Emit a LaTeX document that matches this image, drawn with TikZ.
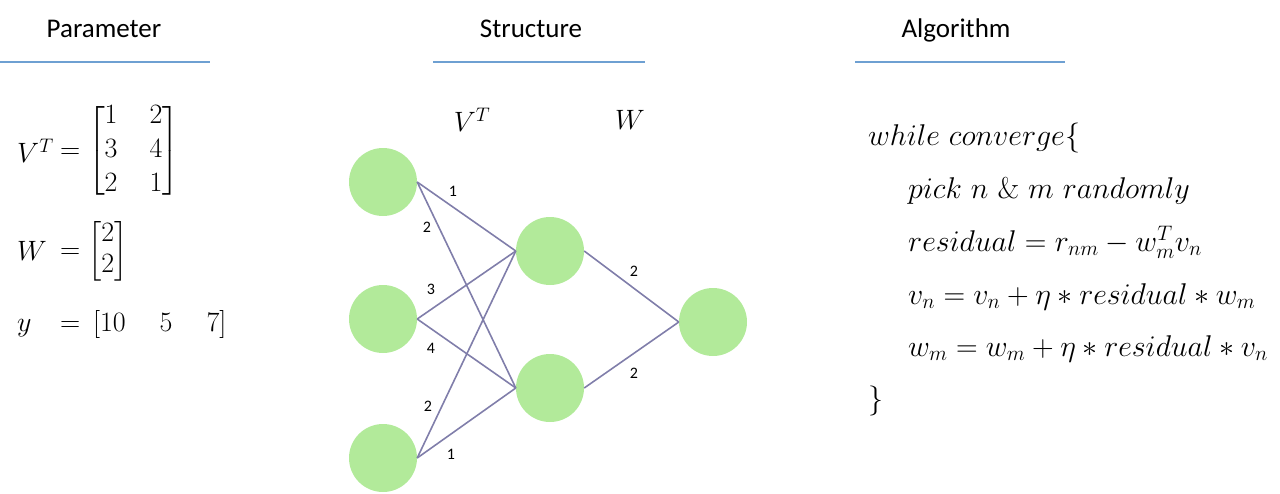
\documentclass[tikz,border=0pt]{standalone}
\usepackage{fix-cm}
\usepackage{amsmath}
\usepackage{fontspec}
\newfontfamily\titlefont{Carlito}
\definecolor{nodegreen}{RGB}{178,234,154}
\definecolor{edgecol}{RGB}{128,126,170}
\definecolor{rulecol}{RGB}{110,160,210}
\tikzset{
  neuron/.style={circle, fill=nodegreen, minimum size=68pt, inner sep=0pt},
  conn/.style={draw=edgecol, line width=1.6pt},
  wlabel/.style={font=\titlefont\fontsize{16}{18}\selectfont, inner sep=0pt},
  title/.style={font=\titlefont\fontsize{27}{32}\selectfont, anchor=base},
  titlerule/.style={draw=rulecol, line width=1.2pt},
  mathtxt/.style={font=\fontsize{28}{34}\selectfont, inner sep=0pt},
  algtxt/.style={font=\fontsize{30}{36}\selectfont, inner sep=0pt, anchor=base west}
}
\begin{document}
\begin{tikzpicture}[x=1pt,y=-1pt]
\useasboundingbox (0,0) rectangle (1280,493);
% titles
\node[title] (tpar) at (104,37) {Parameter};
\node[title] (tstr) at (531,37) {Structure};
\node[title] (talg) at (956,37) {Algorithm};
\coordinate (r1a) at (0,62); \coordinate (r1b) at (210,62);
\coordinate (r2a) at (433,62); \coordinate (r2b) at (645,62);
\coordinate (r3a) at (855,62); \coordinate (r3b) at (1065,62);
\draw[titlerule] (r1a) -- (r1b);
\draw[titlerule] (r2a) -- (r2b);
\draw[titlerule] (r3a) -- (r3b);
% parameters
\setlength{\arraycolsep}{16pt}
\delimiterfactor=750
\delimitershortfall=28pt
\node[mathtxt, anchor=west] (vsym) at (17,151) {$V^T$};
\node[mathtxt, anchor=west] (vmat) at (60,151) {$=\begin{bmatrix}1 & 2\\ 3 & 4\\ 2 & 1\end{bmatrix}$};
\node[mathtxt, anchor=west] (wsym) at (17,251) {$W$};
\node[mathtxt, anchor=west, font=\fontsize{28}{31}\selectfont] (wmat) at (60,251) {$=\begin{bmatrix}2\\ 2\end{bmatrix}$};
\node[mathtxt, anchor=base west] (ysym) at (17,331) {$y$};
\node[mathtxt, anchor=base west] (ymat) at (60,331) {$=\hspace{5pt}[10\hspace{34pt}5\hspace{34pt}7]$};
% network
\node[mathtxt] (lvt) at (472,120) {$V^T$};
\node[mathtxt] (lw) at (630,120) {$W$};
\node[neuron] (i1) at (383,182) {};
\node[neuron] (i2) at (383,319) {};
\node[neuron] (i3) at (383,458) {};
\node[neuron] (h1) at (550,251) {};
\node[neuron] (h2) at (550,388) {};
\node[neuron] (o) at (713,322) {};
\draw[conn] (i1.east) -- (h1.west);
\draw[conn] (i1.east) -- (h2.west);
\draw[conn] (i2.east) -- (h1.west);
\draw[conn] (i2.east) -- (h2.west);
\draw[conn] (i3.east) -- (h1.west);
\draw[conn] (i3.east) -- (h2.west);
\draw[conn] (h1.east) -- (o.west);
\draw[conn] (h2.east) -- (o.west);
\node[wlabel] (l11) at (453,191) {1};
\node[wlabel] (l12) at (427,227) {2};
\node[wlabel] (l21) at (431,289) {3};
\node[wlabel] (l22) at (431,348) {4};
\node[wlabel] (l31) at (428,406) {2};
\node[wlabel] (l32) at (451,454) {1};
\node[wlabel] (lo1) at (634,271) {2};
\node[wlabel] (lo2) at (634,373) {2};
% algorithm
\node[algtxt] (a1) at (868,145) {$while\ converge\{$};
\node[algtxt] (a2) at (908,198) {$pick\ n\ \&\ m\ randomly$};
\node[algtxt] (a3) at (908,251) {$residual = r_{nm} - w_m^T v_n$};
\node[algtxt] (a4) at (908,304) {$v_n = v_n + \eta \ast residual \ast w_m$};
\node[algtxt] (a5) at (908,356) {$w_m = w_m + \eta \ast residual \ast v_n$};
\node[algtxt] (a6) at (868,408) {$\}$};
\end{tikzpicture}
\end{document}
